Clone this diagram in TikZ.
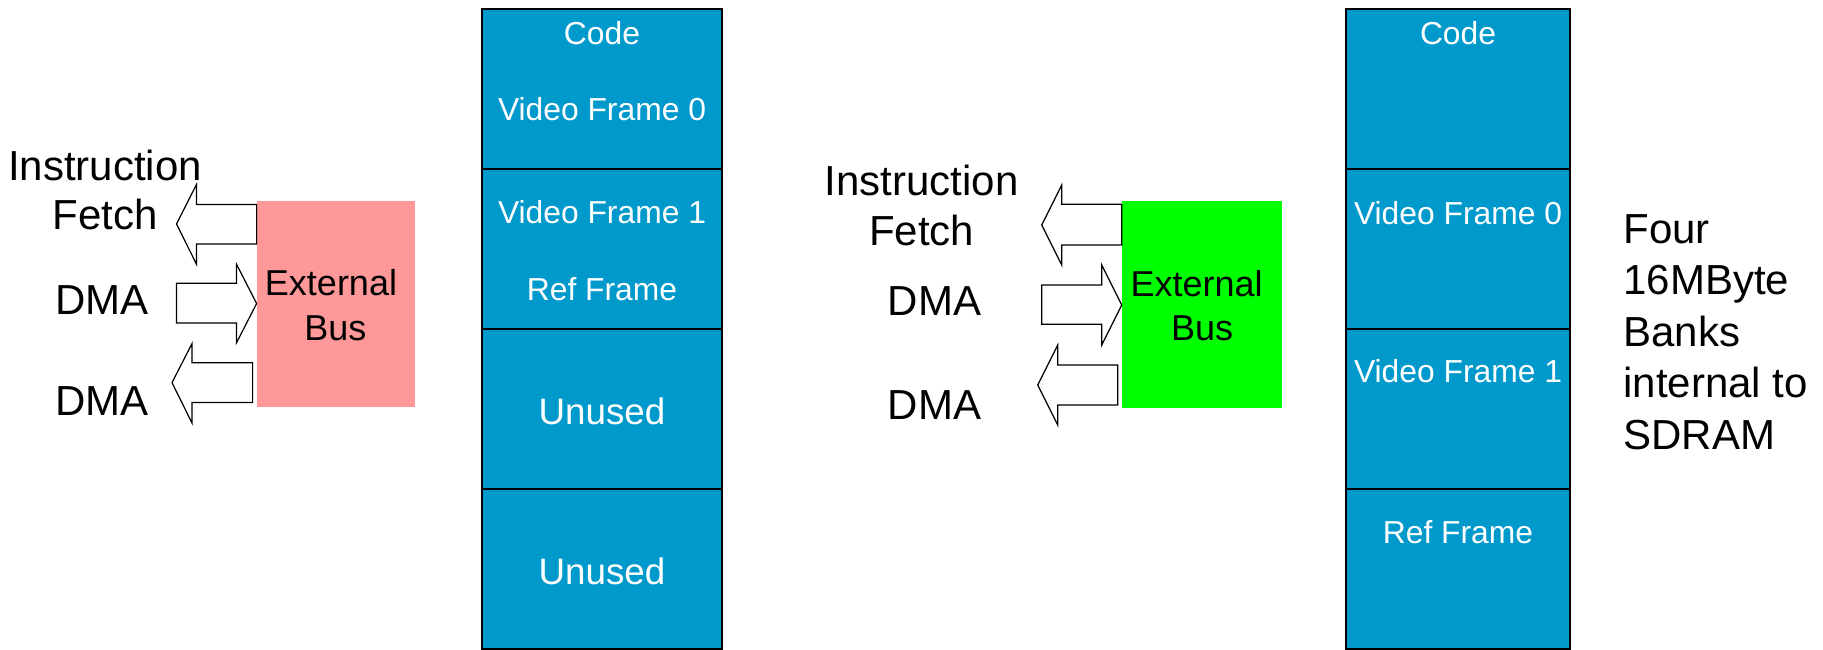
\documentclass[tikz,border=0pt]{standalone}
\usepackage{fontspec}
\setmainfont{Liberation Sans}
\definecolor{memblue}{RGB}{0,153,204}
\definecolor{buspink}{RGB}{255,153,153}
\definecolor{busgreen}{RGB}{0,255,0}
\begin{document}
\begin{tikzpicture}[x=0.5pt,y=-0.5pt,
  cellL/.style={draw=black, line width=1pt, fill=memblue, minimum width=120pt, minimum height=80pt, inner sep=0pt, outer sep=0pt},
  cellR/.style={cellL, minimum width=112pt},
  celltext/.style={text=white, font=\fontsize{15.9}{19}\selectfont, anchor=base, inner sep=0pt},
  bigcell/.style={celltext, font=\fontsize{18.4}{22}\selectfont},
  lbltext/.style={font=\fontsize{21}{25}\selectfont, anchor=base west, inner sep=0pt},
  lblcenter/.style={lbltext, anchor=base},
  busbox/.style={inner sep=0pt, outer sep=0pt, minimum height=103pt},
  bustext/.style={font=\fontsize{18}{22}\selectfont, anchor=base, inner sep=0pt},
  blockarrow/.style={draw=black, line width=0.6pt, fill=white, line join=miter}
]
\useasboundingbox (0,0) rectangle (1823,649);

% left memory column
\node[cellL] (L1) at (602,89) {};
\node[cellL] (L2) at (602,249) {};
\node[cellL] (L3) at (602,409) {};
\node[cellL] (L4) at (602,569) {};
\node[celltext] (L1a) at (602,44.3) {Code};
\node[celltext] (L1b) at (602,120.5) {Video Frame 0};
\node[celltext] (L2a) at (602,223.3) {Video Frame 1};
\node[celltext] (L2b) at (602,300.7) {Ref Frame};
\node[bigcell] (L3a) at (602,424) {Unused};
\node[bigcell] (L4a) at (602,584) {Unused};

% right memory column
\node[cellR] (R1) at (1458,89) {};
\node[cellR] (R2) at (1458,249) {};
\node[cellR] (R3) at (1458,409) {};
\node[cellR] (R4) at (1458,569) {};
\node[celltext] (R1a) at (1458,44.3) {Code};
\node[celltext] (R2a) at (1458,224) {Video Frame 0};
\node[celltext] (R3a) at (1458,382.7) {Video Frame 1};
\node[celltext] (R4a) at (1458,543) {Ref Frame};

% bus boxes
\node[busbox, fill=buspink, minimum width=79.2pt] (busA) at (335.8,303.5) {};
\node[busbox, fill=busgreen, minimum width=80pt, minimum height=103.5pt] (busB) at (1201.7,304.5) {};
\node[bustext] (busAt1) at (331,295.6) {External};
\node[bustext] (busAt2) at (335.3,340) {Bus};
\node[bustext] (busBt1) at (1196.7,296.7) {External};
\node[bustext] (busBt2) at (1202,340.7) {Bus};

% left block arrows
\draw[blockarrow] (256.6,204.5) -- (196.4,204.5) -- (196.4,184.6) -- (176.5,224) -- (196.4,264) -- (196.4,244) -- (256.6,244) -- cycle;
\draw[blockarrow] (176.5,283.3) -- (236.4,283.3) -- (236.4,264) -- (256.6,303.5) -- (236.4,343) -- (236.4,323) -- (176.5,323) -- cycle;
\draw[blockarrow] (252.6,362.8) -- (192,362.8) -- (192,343.6) -- (172,382.6) -- (192,423) -- (192,402.5) -- (252.6,402.5) -- cycle;

% middle block arrows
\draw[blockarrow] (1121.7,204.3) -- (1061.7,204.3) -- (1061.7,185) -- (1041.7,225) -- (1061.7,265) -- (1061.7,245) -- (1121.7,245) -- cycle;
\draw[blockarrow] (1041.7,285) -- (1101.7,285) -- (1101.7,265) -- (1121.7,305) -- (1101.7,345) -- (1101.7,324.3) -- (1041.7,324.3) -- cycle;
\draw[blockarrow] (1117.7,365) -- (1057.7,365) -- (1057.7,345) -- (1037.7,385) -- (1057.7,425) -- (1057.7,405) -- (1117.7,405) -- cycle;

% left labels
\node[lblcenter] (lA1) at (105,180) {Instruction};
\node[lblcenter] (lA2) at (105,229.3) {Fetch};
\node[lbltext] (lA3) at (55,314.4) {DMA};
\node[lbltext] (lA4) at (55,415.4) {DMA};

% middle labels
\node[lblcenter] (lB1) at (921.7,195) {Instruction};
\node[lblcenter] (lB2) at (921.7,245.7) {Fetch};
\node[lbltext] (lB3) at (887.3,315.7) {DMA};
\node[lbltext] (lB4) at (887.3,419) {DMA};

% right note
\node[lbltext] (n1) at (1623,243) {Four};
\node[lbltext] (n2) at (1623,294.5) {16MByte};
\node[lbltext] (n3) at (1623,346) {Banks};
\node[lbltext] (n4) at (1623,397.5) {internal to};
\node[lbltext] (n5) at (1623,449) {SDRAM};
\end{tikzpicture}
\end{document}
